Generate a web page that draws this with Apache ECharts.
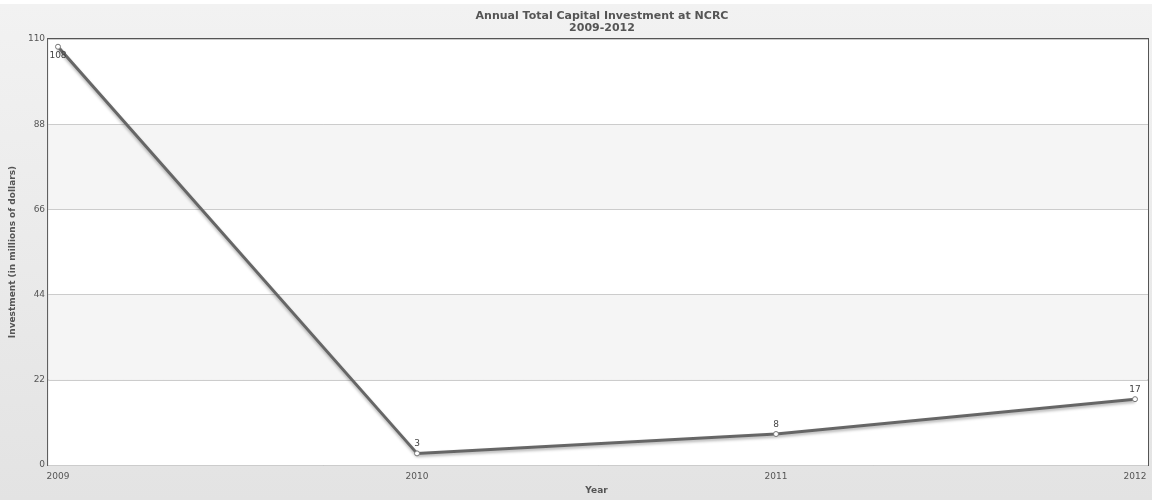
<!DOCTYPE html>
<html>
<head>
<meta charset="utf-8">
<script src="https://cdn.jsdelivr.net/npm/echarts@6/dist/echarts.min.js"></script>
<style>
html,body{margin:0;padding:0;background:#fff;}
#c{width:1153px;height:500px;}
</style>
</head>
<body>
<div id="c"></div>
<script>
const years = ['2009', '2010', '2011', '2012'];
const investment = [108, 3, 8, 17];
const yTicks = { min: 0, max: 110, interval: 22 };
const titleLines = ['Annual Total Capital Investment at NCRC', '2009-2012'];
const yTitle = 'Investment (in millions of dollars)';
const xTitle = 'Year';

const chart = echarts.init(document.getElementById('c'), null, { renderer: 'canvas' });
const font = 'Verdana, "DejaVu Sans", sans-serif';

chart.setOption({
  animation: false,
  backgroundColor: '#ffffff',
  graphic: [{
    type: 'rect', z: -10, silent: true,
    shape: { x: 0, y: 4, width: 1152, height: 496 },
    style: {
      fill: new echarts.graphic.LinearGradient(0, 0, 0, 1, [
        { offset: 0, color: '#f2f2f2' },
        { offset: 1, color: '#e3e3e3' }
      ])
    }
  }],
  title: {
    text: titleLines.join('\n'),
    left: 597, top: 5, textAlign: 'center',
    textStyle: { fontFamily: font, fontSize: 11, fontWeight: 'bold', color: '#555', lineHeight: 12 }
  },
  grid: [
    { left: 58, right: 18, top: 39, bottom: 35, containLabel: false },
    { left: 45, right: 5, top: 39, bottom: 35, show: true, backgroundColor: 'transparent',
      borderColor: '#555', borderWidth: 2, z: 0 }
  ],
  xAxis: [
    {
      gridIndex: 0, type: 'category', data: years, boundaryGap: false,
      name: xTitle, nameLocation: 'middle', nameGap: 21,
      nameTextStyle: { fontFamily: font, fontSize: 9, fontWeight: 'bold', color: '#555' },
      axisLine: { show: false }, axisTick: { show: false },
      axisLabel: { fontFamily: font, fontSize: 9, color: '#555', margin: 7 },
      splitLine: { show: false }
    },
    {
      gridIndex: 1, type: 'value', show: false, min: 0, max: 1
    }
  ],
  yAxis: [
    {
      gridIndex: 0, type: 'value', min: yTicks.min, max: yTicks.max, interval: yTicks.interval,
      show: false
    },
    {
      gridIndex: 1, type: 'value', min: yTicks.min, max: yTicks.max, interval: yTicks.interval,
      name: yTitle, nameLocation: 'middle', nameGap: 26, nameRotate: 90,
      nameTextStyle: { fontFamily: font, fontSize: 9, fontWeight: 'bold', color: '#555' },
      axisLine: { show: false }, axisTick: { show: false },
      axisLabel: { fontFamily: font, fontSize: 9, color: '#555', margin: 3 },
      splitLine: { show: true, lineStyle: { color: '#cccccc', width: 1 } },
      splitArea: { show: true, areaStyle: { color: ['#ffffff', '#f5f5f5'] } }
    }
  ],
  series: [{
    type: 'line',
    xAxisIndex: 0, yAxisIndex: 0,
    data: investment.map((v, i) => i === 0
      ? { value: v, label: { position: 'bottom', distance: 1 } }
      : v),
    symbol: 'circle', symbolSize: 5,
    itemStyle: { color: '#ffffff', borderColor: '#777', borderWidth: 1 },
    lineStyle: { color: '#666666', width: 3, shadowColor: 'rgba(0,0,0,0.3)', shadowBlur: 3, shadowOffsetY: 2 },
    label: { show: true, position: 'top', distance: 2, fontFamily: font, fontSize: 9, color: '#444' },
    z: 5
  }]
});
</script>
</body>
</html>
